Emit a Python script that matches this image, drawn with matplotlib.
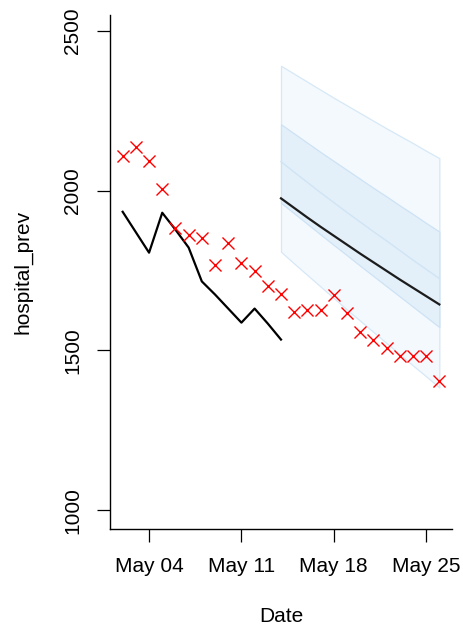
import matplotlib
matplotlib.use("Agg")
import matplotlib.pyplot as plt
import matplotlib.dates as mdates
import numpy as np
import pandas as pd

plt.rcParams['font.family'] = ['Liberation Sans', 'DejaVu Sans']

# observed data (crosses), May 2 - May 26
obs_dates = pd.date_range("2020-05-02", "2020-05-26", freq="D")
obs_values = [2109, 2137, 2094, 2006, 1884, 1862, 1853, 1766, 1837, 1775,
              1750, 1703, 1678, 1619, 1625, 1628, 1675, 1616, 1559, 1534,
              1509, 1481, 1484, 1484, 1403]

# fitted line, May 2 - May 14
fit_dates = pd.date_range("2020-05-02", "2020-05-14", freq="D")
fit_values = [1934, 1870, 1806, 1931, 1878, 1822, 1716, 1675, 1631, 1587,
              1631, 1584, 1534]

# forecast, May 14 - May 26
fc_dates = pd.date_range("2020-05-14", "2020-05-26", freq="D")
fc_mean = [1976, 1946, 1916, 1887, 1859, 1831, 1803, 1776, 1749, 1722, 1696, 1670, 1644]
fc_median = [2091, 2058, 2026, 1994, 1963, 1932, 1902, 1872, 1843, 1813, 1783, 1754, 1725]
fc_lo90 = [1809, 1772, 1736, 1700, 1664, 1628, 1593, 1558, 1523, 1488, 1453, 1419, 1384]
fc_hi90 = [2391, 2366, 2341, 2316, 2291, 2267, 2243, 2219, 2195, 2172, 2149, 2125, 2102]
fc_lo50 = [1962, 1929, 1896, 1863, 1830, 1798, 1765, 1733, 1701, 1669, 1637, 1605, 1573]
fc_hi50 = [2208, 2179, 2150, 2121, 2093, 2065, 2037, 2009, 1982, 1954, 1927, 1899, 1872]

xticks = pd.to_datetime(["2020-05-04", "2020-05-11", "2020-05-18", "2020-05-25"])
xtick_labels = ["May 04", "May 11", "May 18", "May 25"]
yticks = [1000, 1500, 2000, 2500]

fig = plt.figure(figsize=(4.64, 6.28), dpi=100)
ax = fig.add_axes([110/464, 1 - 529/628, (452-110)/464, (529-15)/628])

ax.fill_between(fc_dates, fc_lo90, fc_hi90, facecolor='#f4f9fe', edgecolor='#d6e8f6', linewidth=0.9, zorder=1)
ax.fill_between(fc_dates, fc_lo50, fc_hi50, facecolor='#e3f0fa', edgecolor='#cde2f4', linewidth=0.9, zorder=2)
ax.plot(fc_dates, fc_median, color='#d0e4f4', linewidth=1.0, zorder=3)
ax.plot(fc_dates, fc_mean, color='#1c1c1c', linewidth=1.6, zorder=4)
ax.plot(fit_dates, fit_values, color='black', linewidth=1.6, zorder=4)
ax.scatter(obs_dates, obs_values, marker='x', color='red', s=75, linewidths=1.0, zorder=5)

x0 = pd.Timestamp("2020-05-02"); x1 = pd.Timestamp("2020-05-26")
span = (x1 - x0) * 0.04
ax.set_xlim(x0 - span, x1 + span)
ax.set_ylim(941, 2550)

ax.set_xticks(xticks)
ax.set_xticklabels(xtick_labels, fontsize=15)
ax.set_yticks(yticks)
ax.set_yticklabels([str(v) for v in yticks], fontsize=15, rotation=90, va='center')
ax.tick_params(axis='both', direction='out', length=9.2, width=0.9)
ax.tick_params(axis='x', pad=11)
ax.tick_params(axis='y', pad=11)

for s in ['top', 'right']:
    ax.spines[s].set_visible(False)
for s in ['left', 'bottom']:
    ax.spines[s].set_linewidth(1.0)

ax.set_xlabel("Date", fontsize=15, labelpad=22)
ax.set_ylabel("hospital_prev", fontsize=15, labelpad=22)

fig.savefig("out.png", dpi=100)
